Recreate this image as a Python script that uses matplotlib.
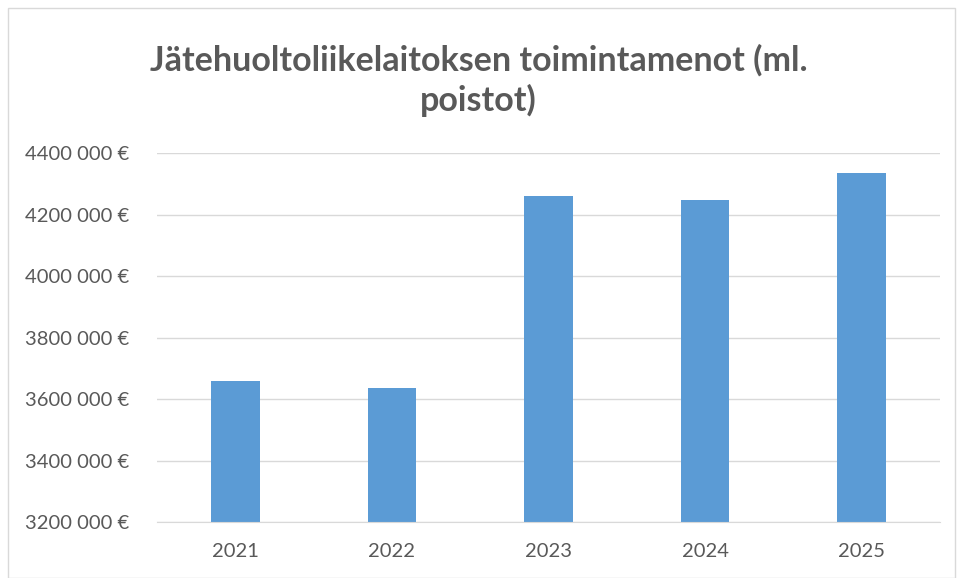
import matplotlib
matplotlib.use("Agg")
import matplotlib.pyplot as plt
from matplotlib.patches import Rectangle
from matplotlib.ticker import FuncFormatter

years = ["2021", "2022", "2023", "2024", "2025"]
costs = [3660000, 3637000, 4261000, 4247000, 4337000]
yticks = [3200000, 3400000, 3600000, 3800000, 4000000, 4200000, 4400000]

TEXT = "#595959"
BAR = "#5B9BD5"
plt.rcParams["font.family"] = ["Lato", "DejaVu Sans"]


def eur(v, pos=None):
    # same look as the Excel format: "4400 000 €"
    v = int(round(v))
    return "%d %03d €" % (v // 1000, v % 1000)


fig = plt.figure(figsize=(9.57, 5.78), dpi=100)
fig.patches.append(Rectangle((8 / 957, 0.0), 1 - 10 / 957, 1 - 8 / 578,
                             transform=fig.transFigure, fill=False,
                             edgecolor="#d9d9d9", linewidth=1))

ax = fig.add_axes([157 / 957, 1 - 522.3 / 578, (940 - 157) / 957, (522.3 - 153.3) / 578])
ax.bar(range(len(years)), costs, width=0.31, color=BAR, zorder=2)
ax.set_xlim(-0.5, len(years) - 0.5)
ax.set_ylim(yticks[0], yticks[-1])
ax.set_yticks(yticks)
ax.yaxis.set_major_formatter(FuncFormatter(eur))
ax.set_xticks(range(len(years)))
ax.set_xticklabels(years)
ax.grid(axis="y", color="#d9d9d9", linewidth=1, zorder=0)
for s in ["top", "right", "left"]:
    ax.spines[s].set_visible(False)
ax.spines["bottom"].set_color("#d9d9d9")
ax.tick_params(axis="both", length=0, labelsize=14.5, colors=TEXT)
ax.tick_params(axis="y", pad=20)
ax.tick_params(axis="x", pad=15)

fig.text(0.5, 1 - 60 / 578, "Jätehuoltoliikelaitoksen toimintamenot (ml.", ha="center",
         va="center", fontsize=24.5, fontweight="bold", color=TEXT)
fig.text(0.5, 1 - 100 / 578, "poistot)", ha="center", va="center",
         fontsize=24.5, fontweight="bold", color=TEXT)

fig.savefig("out.png", dpi=100)
